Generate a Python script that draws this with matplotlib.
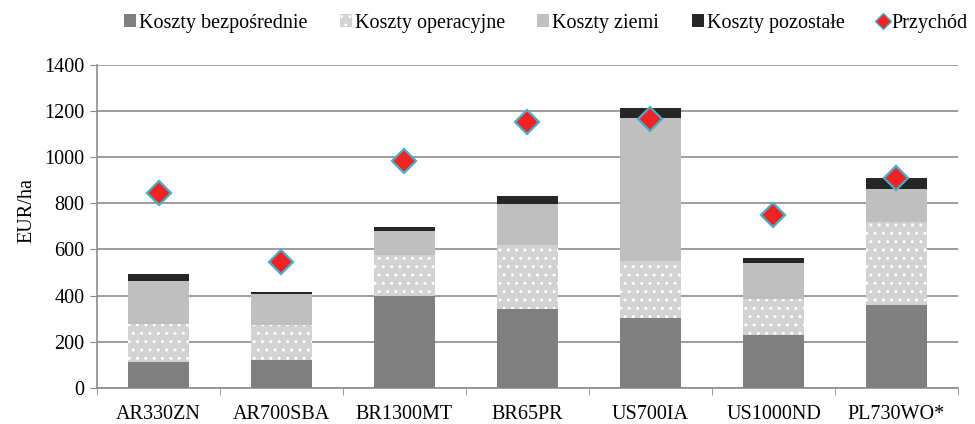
import numpy as np
import matplotlib.pyplot as plt
from matplotlib.patches import Patch
from matplotlib.lines import Line2D

plt.rcParams['font.family'] = ['Liberation Serif', 'DejaVu Serif']
plt.rcParams['hatch.linewidth'] = 1.0

farms = ['AR330ZN', 'AR700SBA', 'BR1300MT', 'BR65PR', 'US700IA', 'US1000ND', 'PL730WO*']
direct = [113, 123, 397, 340, 305, 230, 360]
operating = [164, 149, 178, 280, 245, 155, 359]
land = [186, 133, 105, 175, 618, 155, 142]
other = [31, 11, 17, 35, 47, 22, 48]
revenue = [843, 547, 985, 1152, 1165, 750, 909]

fs = 14.5
fig = plt.figure(figsize=(9.75, 4.24), dpi=100)
ax = fig.add_axes([0.0995, 0.085, 0.883, 0.762])

x = np.arange(len(farms))
w = 0.5
b1 = np.array(direct)
b2 = b1 + np.array(operating)
b3 = b2 + np.array(land)

ax.bar(x, direct, w, color='#808080', zorder=3)
ax.bar(x, operating, w, bottom=b1, color='#d2d2d2', edgecolor='white',
       hatch='..', linewidth=0, zorder=3)
ax.bar(x, land, w, bottom=b2, color='#bfbfbf', zorder=3)
ax.bar(x, other, w, bottom=b3, color='#262626', zorder=3)
ax.plot(x, revenue, linestyle='none', marker='D', markersize=12.5,
        markerfacecolor='#ee2424', markeredgecolor='#4aacc6',
        markeredgewidth=1.6, zorder=4)

ax.set_ylim(0, 1400)
ax.set_yticks(range(0, 1401, 200))
ax.set_xlim(-0.5, len(farms) - 0.5)
ax.set_xticks(x)
ax.set_xticklabels(farms)
ax.set_xticks(np.arange(-0.5, len(farms), 1), minor=True)
ax.tick_params(axis='x', which='major', length=0, labelsize=fs, pad=12)
ax.tick_params(axis='x', which='minor', length=5, color='#888888')
ax.tick_params(axis='y', length=5, color='#888888', labelsize=fs, pad=4)
ax.set_ylabel('EUR/ha', fontsize=fs)
ax.yaxis.set_label_coords(-0.07, 0.55)

ax.grid(axis='y', color='#8c8c8c', linewidth=1.2, zorder=0)
for s in ['top', 'right']:
    ax.spines[s].set_visible(False)
for s in ['left', 'bottom']:
    ax.spines[s].set_color('#8c8c8c')
    ax.spines[s].set_linewidth(1.2)

handles = [
    Patch(facecolor='#808080', label='Koszty bezpośrednie'),
    Patch(facecolor='#d2d2d2', edgecolor='white', hatch='..', linewidth=0, label='Koszty operacyjne'),
    Patch(facecolor='#bfbfbf', label='Koszty ziemi'),
    Patch(facecolor='#262626', label='Koszty pozostałe'),
    Line2D([], [], linestyle='none', marker='D', markersize=8,
           markerfacecolor='#ee2424', markeredgecolor='#4aacc6', label='Przychód'),
]
fig.legend(handles=handles, loc='upper center', bbox_to_anchor=(0.56, 1.01), ncol=5,
           frameon=False, fontsize=fs, handlelength=0.6, handleheight=0.6,
           handletextpad=0.15, columnspacing=1.6)

fig.savefig('out.png', dpi=100)
